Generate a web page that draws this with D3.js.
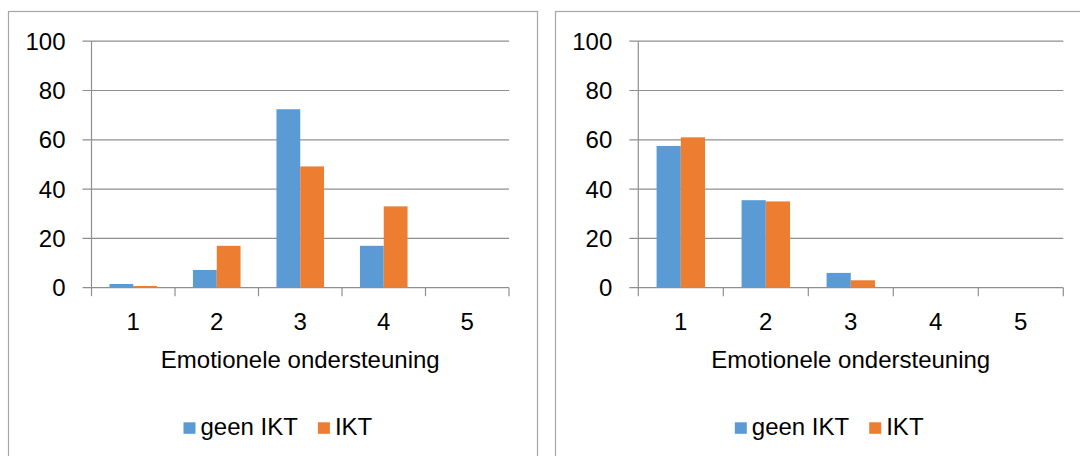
<!DOCTYPE html>
<html>
<head>
<meta charset="utf-8">
<script src="https://cdn.jsdelivr.net/npm/d3@7"></script>
<style>
  html, body { margin: 0; padding: 0; background: #fff; }
  svg { display: block; }
  text { font-family: "Liberation Sans", Arial, sans-serif; fill: #000; }
</style>
</head>
<body>
<svg id="chart" width="1080" height="456"></svg>
<script>
// ---- data ----
const categories = ["1", "2", "3", "4", "5"];
const seriesNames = ["geen IKT", "IKT"];
const leftGeenIKT = [1.5, 7.2, 72.4, 17.0, 0];
const leftIKT = [0.7, 17.0, 49.2, 33.0, 0];
const rightGeenIKT = [57.5, 35.5, 6.0, 0, 0];
const rightIKT = [61.0, 35.0, 3.0, 0, 0];
const yTicks = [0, 20, 40, 60, 80, 100];
const xTitle = "Emotionele ondersteuning";

// ---- styles / layout ----
const colors = ["#5B9BD5", "#ED7D31"];
const gridColor = "#8f8f8f";
const borderColor = "#a6a6a6";
const fontSize = 24;

const panels = [
  { border: [8.5, 11.5, 529, 460], plot: [91.5, 41.2, 509, 287.7],
    data: [leftGeenIKT, leftIKT], legendX: 183.5 },
  { border: [555.5, 11.5, 529, 460], plot: [638.3, 41.2, 1063.3, 287.7],
    data: [rightGeenIKT, rightIKT], legendX: 734.8 }
];

const svg = d3.select("#chart");

panels.forEach(p => {
  const g = svg.append("g");
  const [bx, by, bw, bh] = p.border;
  g.append("rect").attr("x", bx).attr("y", by).attr("width", bw).attr("height", bh)
    .attr("fill", "none").attr("stroke", borderColor).attr("stroke-width", 1.2);

  const [x0, y0, x1, y1] = p.plot;
  const x = d3.scaleBand().domain(categories).range([x0, x1]).paddingInner(0).paddingOuter(0);
  const bandW = x.bandwidth();
  const pad = bandW * 0.215;
  const xs = d3.scaleBand().domain(seriesNames).range([pad, bandW - pad]).padding(0);
  const y = d3.scaleLinear().domain([0, 100]).range([y1, y0]);

  // gridlines
  g.append("g").selectAll("line").data(yTicks).join("line")
    .attr("x1", x0 - 9).attr("x2", x1)
    .attr("y1", d => y(d)).attr("y2", d => y(d))
    .attr("stroke", gridColor).attr("stroke-width", 1.2);

  // y axis line
  g.append("line").attr("x1", x0).attr("x2", x0).attr("y1", y0).attr("y2", y1)
    .attr("stroke", gridColor).attr("stroke-width", 1.2);

  // x tick marks at band edges
  const edges = categories.map(c => x(c)).concat([x1]);
  g.append("g").selectAll("line").data(edges).join("line")
    .attr("x1", d => d).attr("x2", d => d).attr("y1", y1).attr("y2", y1 + 8.5)
    .attr("stroke", gridColor).attr("stroke-width", 1.2);

  // y tick labels
  g.append("g").selectAll("text").data(yTicks).join("text")
    .attr("x", x0 - 26).attr("y", d => y(d) + 8.5)
    .attr("text-anchor", "end").attr("font-size", fontSize)
    .text(d => d);

  // x tick labels
  g.append("g").selectAll("text").data(categories).join("text")
    .attr("x", d => x(d) + bandW / 2).attr("y", 330)
    .attr("text-anchor", "middle").attr("font-size", fontSize)
    .text(d => d);

  // bars
  seriesNames.forEach((s, si) => {
    g.append("g").selectAll("rect").data(p.data[si]).join("rect")
      .attr("x", (d, i) => x(categories[i]) + xs(s))
      .attr("width", xs.bandwidth())
      .attr("y", d => y(d))
      .attr("height", d => y(0) - y(d))
      .attr("fill", colors[si]);
  });

  // axis title
  g.append("text").attr("x", (x0 + x1) / 2).attr("y", 368)
    .attr("text-anchor", "middle").attr("font-size", fontSize)
    .text(xTitle);

  // legend
  const lg = g.append("g").attr("transform", `translate(${p.legendX},0)`);
  let cx = 0;
  seriesNames.forEach((s, si) => {
    lg.append("rect").attr("x", cx).attr("y", 422.3).attr("width", 12).attr("height", 11.5)
      .attr("fill", colors[si]);
    const t = lg.append("text").attr("x", cx + 17).attr("y", 435)
      .attr("font-size", fontSize).text(s);
    const w = t.node().getComputedTextLength();
    cx = cx + 17 + w + 20;
  });
});
</script>
</body>
</html>
